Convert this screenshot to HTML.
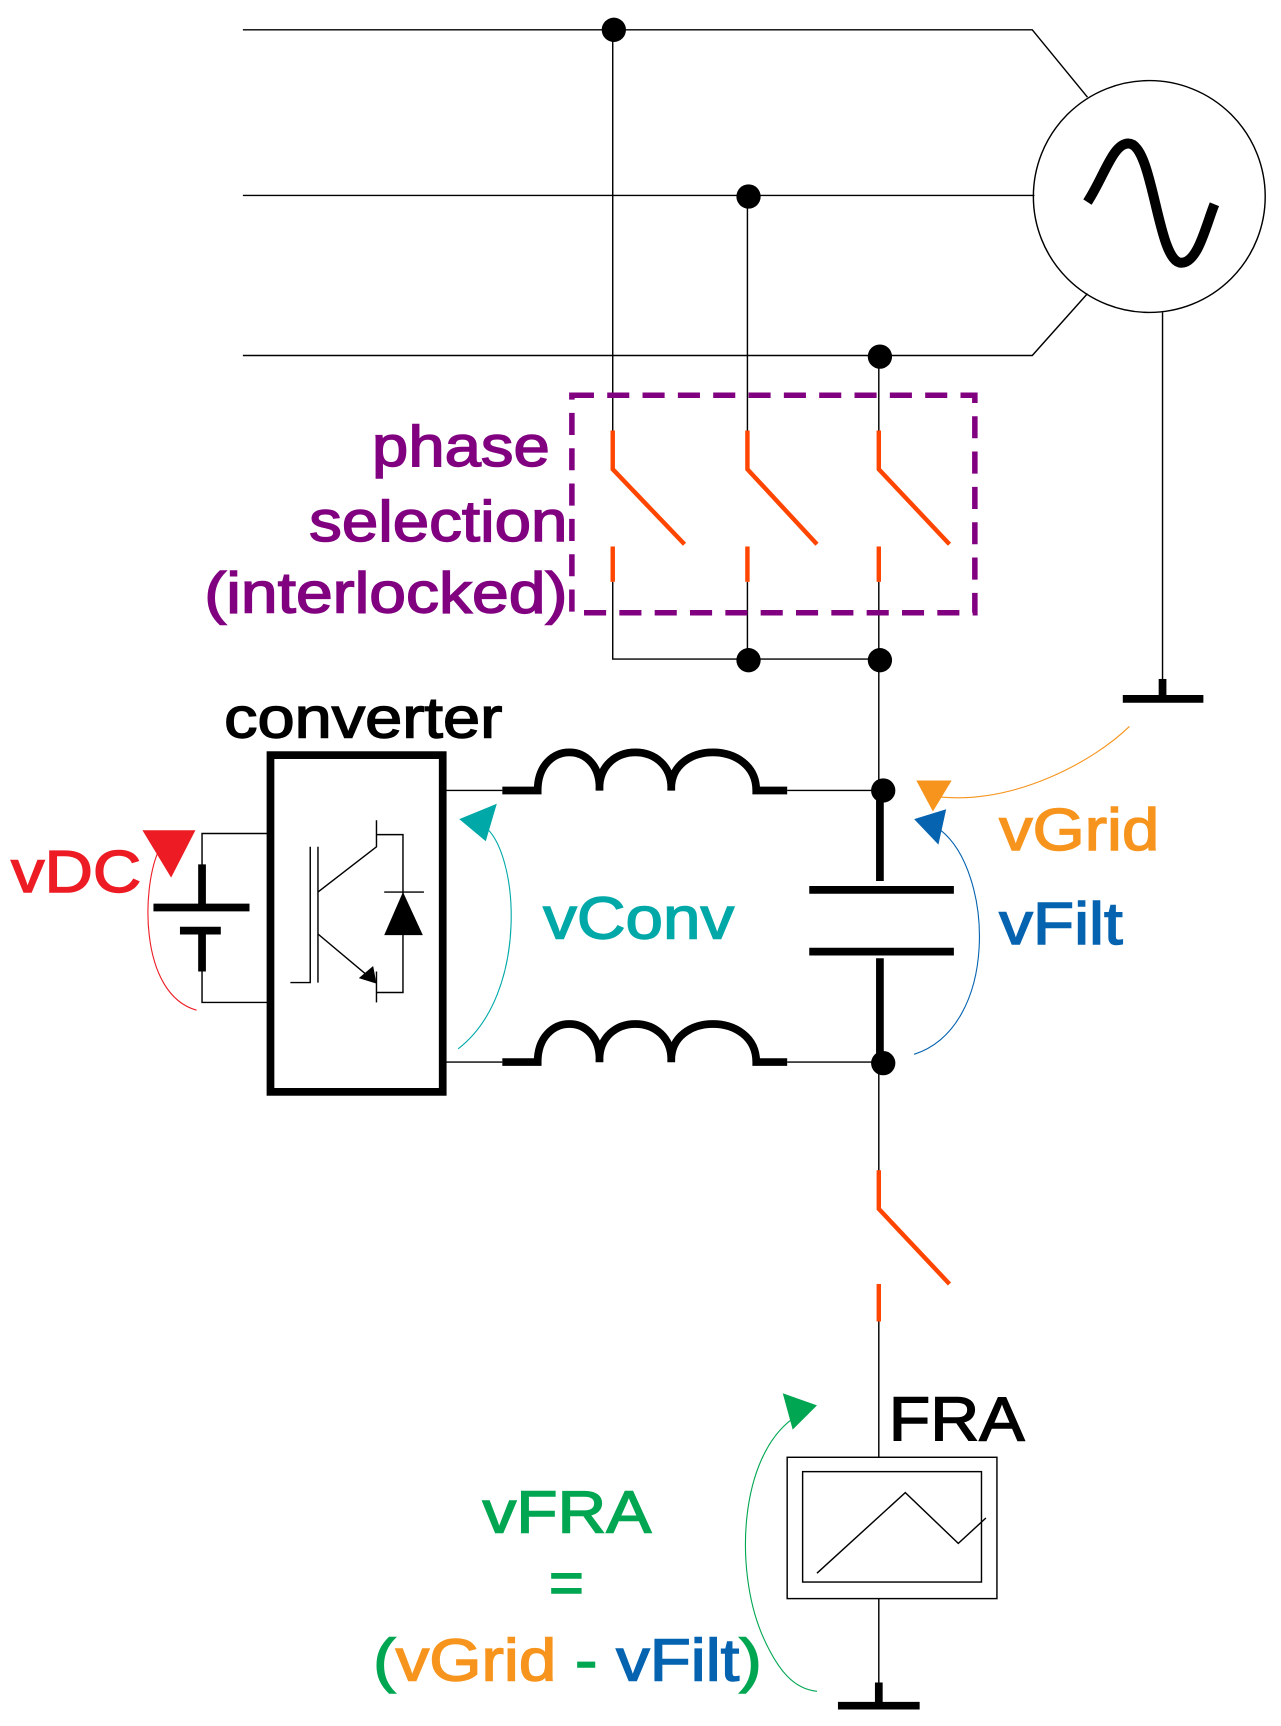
<!DOCTYPE html>
<html><head><meta charset="utf-8"><style>
html,body{margin:0;padding:0;background:#fff;width:1281px;height:1726px;overflow:hidden}
svg{display:block}
text{font-family:"Liberation Sans",Arial,sans-serif;stroke-width:1.3;paint-order:fill}
</style></head><body>
<svg width="1281" height="1726" viewBox="0 0 1160.3 1563.4" preserveAspectRatio="none" xmlns="http://www.w3.org/2000/svg">
<g fill="none" stroke="#000" stroke-width="1.3">
<polyline points="220,27 935,27 985,88"/>
<line x1="220" y1="177" x2="937" y2="177"/>
<polyline points="220,322 935,322 985,266"/>
<circle cx="1041" cy="178" r="105"/>
<line x1="1053" y1="283" x2="1053" y2="630"/>
<line x1="555" y1="27" x2="555" y2="392"/>
<line x1="677" y1="178" x2="677" y2="392"/>
<line x1="796" y1="323" x2="796" y2="392"/>
<polyline points="555,527 555,597 797,597"/>
<line x1="677" y1="527" x2="677" y2="597"/>
<line x1="796" y1="527" x2="796" y2="716"/>
<line x1="403" y1="716" x2="455" y2="716"/>
<line x1="713" y1="716" x2="800" y2="716"/>
<line x1="403" y1="962" x2="455" y2="962"/>
<line x1="713" y1="962" x2="800" y2="962"/>
<line x1="796" y1="963" x2="796" y2="1062"/>
<line x1="796" y1="1195" x2="796" y2="1320"/>
<line x1="796" y1="1448" x2="796" y2="1530"/>
<rect x="713" y="1320" width="190" height="128"/>
<rect x="727" y="1333" width="162" height="100"/>
<polyline points="740,1425 820,1352 868,1398 893,1375"/>
<polyline points="245,755 183,755 183,785"/>
<polyline points="245,908 183,908 183,878"/>
<polyline points="263,890 281,890 281,767"/>
<line x1="288" y1="767" x2="288" y2="890"/>
<polyline points="288,808 341,767 341,743"/>
<polyline points="341,756 365,756 365,899 341,899"/>
<line x1="288" y1="846" x2="338" y2="888"/>
<line x1="341" y1="880" x2="341" y2="908"/>
<line x1="348" y1="808" x2="384" y2="808"/>
</g>
<path d="M985,183 C1000,160 1008,130 1022,130 C1045,130 1048,238 1070,238 C1085,238 1092,205 1100,185" fill="none" stroke="#000" stroke-width="9"/>
<g fill="#000">
<circle cx="556" cy="27" r="11"/><circle cx="678" cy="178" r="11"/><circle cx="797" cy="323" r="11"/>
<circle cx="678" cy="598" r="11"/><circle cx="797" cy="598" r="11"/>
<circle cx="800" cy="716" r="11"/><circle cx="800" cy="963" r="11"/>
<polygon points="365,808 348,847 383,847"/>
<polygon points="341,891 325,886 338,875"/>
</g>
<g stroke="#000" stroke-width="7" fill="none">
<line x1="1017" y1="633" x2="1090" y2="633"/><line x1="1053" y1="615" x2="1053" y2="633"/>
<line x1="759" y1="1545" x2="833" y2="1545"/><line x1="796" y1="1524" x2="796" y2="1545"/>
<rect x="245" y="684" width="156" height="305"/>
<line x1="797" y1="716" x2="797" y2="798"/>
<line x1="733" y1="806" x2="864" y2="806"/>
<line x1="733" y1="862" x2="864" y2="862"/>
<line x1="797" y1="868" x2="797" y2="963"/>
<line x1="183" y1="783" x2="183" y2="820"/>
<line x1="139" y1="822" x2="226" y2="822"/>
<line x1="163" y1="843" x2="200" y2="843"/>
<line x1="183" y1="843" x2="183" y2="880"/>
<path d="M455,716 H487 C487,670 545,670 543,716 C541,670 610,670 608,716 C606,670 685,670 685,716 H713"/>
<path d="M455,962 H487 C487,916 545,916 543,962 C541,916 610,916 608,962 C606,916 685,916 685,962 H713"/>
</g>
<g stroke="#FF4500" stroke-width="4" fill="none">
<polyline points="555,390 555,425 620,493"/><line x1="555" y1="495" x2="555" y2="527"/>
<polyline points="677,390 677,425 740,493"/><line x1="677" y1="495" x2="677" y2="527"/>
<polyline points="796,390 796,425 860,493"/><line x1="796" y1="495" x2="796" y2="527"/>
<polyline points="796,1060 796,1095 860,1163"/><line x1="796" y1="1163" x2="796" y2="1197"/>
</g>
<rect x="518" y="358" width="365" height="197" fill="none" stroke="#800080" stroke-width="5" stroke-dasharray="20,12"/>
<g font-size="52" fill="#800080" stroke="#800080">
<text x="337" y="422" textLength="161" lengthAdjust="spacingAndGlyphs">phase</text>
<text x="280" y="490" textLength="234" lengthAdjust="spacingAndGlyphs">selection</text>
<text x="185" y="555" textLength="329" lengthAdjust="spacingAndGlyphs">(interlocked)</text>
</g>
<text x="203" y="668" font-size="52" stroke="#000" textLength="252" lengthAdjust="spacingAndGlyphs">converter</text>
<text x="10" y="808" font-size="54" fill="#ED1C24" stroke="#ED1C24" textLength="118" lengthAdjust="spacingAndGlyphs">vDC</text>
<polygon points="129,752 177,752 155,795" fill="#ED1C24"/>
<path d="M145,768 C128,800 125,900 178,915" fill="none" stroke="#ED1C24" stroke-width="1"/>
<text x="492" y="850" font-size="54" fill="#00A8A8" stroke="#00A8A8" textLength="173" lengthAdjust="spacingAndGlyphs">vConv</text>
<polygon points="416,742 450,728 440,762" fill="#00A8A8"/>
<path d="M438,748 C470,770 480,900 415,950" fill="none" stroke="#00A8A8" stroke-width="1"/>
<text x="905" y="770" font-size="54" fill="#F7941D" stroke="#F7941D" textLength="145" lengthAdjust="spacingAndGlyphs">vGrid</text>
<polygon points="830,707 862,707 845,735" fill="#F7941D"/>
<path d="M852,722 C920,728 990,690 1023,658" fill="none" stroke="#F7941D" stroke-width="1"/>
<text x="905" y="855" font-size="54" fill="#0563B0" stroke="#0563B0" textLength="112" lengthAdjust="spacingAndGlyphs">vFilt</text>
<polygon points="828,742 857,733 850,765" fill="#0563B0"/>
<path d="M852,752 C900,790 905,930 828,955" fill="none" stroke="#0563B0" stroke-width="1"/>
<text x="805" y="1305" font-size="56" stroke="#000" textLength="123" lengthAdjust="spacingAndGlyphs">FRA</text>
<polygon points="709,1262 740,1273 718,1295" fill="#00A651"/>
<path d="M718,1285 C670,1320 665,1420 690,1480 C705,1515 720,1530 740,1532" fill="none" stroke="#00A651" stroke-width="1"/>
<text x="437" y="1388" font-size="54" fill="#00A651" stroke="#00A651" textLength="153" lengthAdjust="spacingAndGlyphs">vFRA</text>
<text x="513" y="1452" font-size="54" fill="#00A651" stroke="#00A651" text-anchor="middle">=</text>
<text x="338" y="1522" font-size="54" textLength="352" lengthAdjust="spacingAndGlyphs"><tspan fill="#00A651" stroke="#00A651">(</tspan><tspan fill="#F7941D" stroke="#F7941D">vGrid</tspan><tspan fill="#00A651" stroke="#00A651"> - </tspan><tspan fill="#0563B0" stroke="#0563B0">vFilt</tspan><tspan fill="#00A651" stroke="#00A651">)</tspan></text>
</svg>
</body></html>
